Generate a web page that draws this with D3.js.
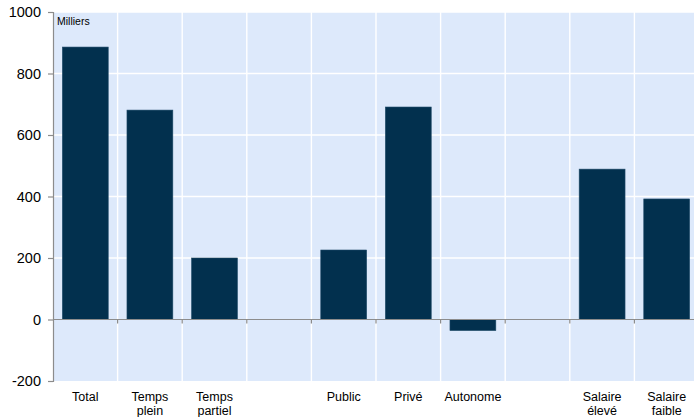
<!DOCTYPE html>
<html>
<head>
<meta charset="utf-8">
<script src="https://cdn.jsdelivr.net/npm/d3@7"></script>
<style>
  html, body { margin: 0; padding: 0; background: #fff; }
  svg { display: block; font-family: "Liberation Sans", Arial, sans-serif; }
</style>
</head>
<body>
<div id="chart"></div>
<script>
// Emploi par catégorie (milliers)
const categories = ["Total", "Temps plein", "Temps partiel", "", "Public", "Privé", "Autonome", " ", "Salaire élevé", "Salaire faible"];
const labelLines = [["Total"], ["Temps", "plein"], ["Temps", "partiel"], [], ["Public"], ["Privé"], ["Autonome"], [], ["Salaire", "élevé"], ["Salaire", "faible"]];
const values = [886, 681, 200, null, 226, 691, -36, null, 489, 392];
const yTicks = [-200, 0, 200, 400, 600, 800, 1000];
const unitLabel = "Milliers";

const W = 694, H = 417;
const margin = { left: 53, top: 12, right: -5, bottom: 36 };

const svg = d3.select("#chart").append("svg").attr("width", W).attr("height", H);

const x = d3.scaleBand()
  .domain(categories)
  .range([margin.left, W - margin.right])
  .paddingInner(0.29)
  .paddingOuter(0.145);

const y = d3.scaleLinear()
  .domain([-200, 1000])
  .range([H - margin.bottom, margin.top]);

// Plot background
svg.append("rect")
  .attr("x", margin.left).attr("y", margin.top)
  .attr("width", W - margin.right - margin.left)
  .attr("height", y(-200) - y(1000))
  .attr("fill", "#dde9fb");

// Horizontal gridlines
svg.append("g").selectAll("line").data(yTicks.filter(t => t !== 0 && t !== -200)).join("line")
  .attr("x1", margin.left).attr("x2", W - margin.right)
  .attr("y1", d => y(d)).attr("y2", d => y(d))
  .attr("stroke", "#ffffff").attr("stroke-width", 1.4);

// Vertical gridlines at category boundaries
const step = x.step();
const bounds = categories.slice(1).map(c => x(c) - x.paddingInner() * step / 2);
svg.append("g").selectAll("line").data(bounds).join("line")
  .attr("x1", d => d).attr("x2", d => d)
  .attr("y1", y(1000)).attr("y2", y(-200))
  .attr("stroke", "#ffffff").attr("stroke-width", 1.4);

// Bars
svg.append("g").selectAll("rect")
  .data(categories.map((c, i) => ({ c, v: values[i] })).filter(d => d.v !== null))
  .join("rect")
  .attr("x", d => x(d.c))
  .attr("width", x.bandwidth())
  .attr("y", d => y(Math.max(0, d.v)))
  .attr("height", d => Math.abs(y(d.v) - y(0)))
  .attr("fill", "#02304e")
  .attr("stroke", "#1f4a68").attr("stroke-width", 0.6);

// Zero line with category ticks
svg.append("line")
  .attr("x1", margin.left).attr("x2", W - margin.right)
  .attr("y1", y(0)).attr("y2", y(0))
  .attr("stroke", "#8c8c8c").attr("stroke-width", 1.2);
svg.append("g").selectAll("line").data(bounds).join("line")
  .attr("x1", d => d).attr("x2", d => d)
  .attr("y1", y(0)).attr("y2", y(0) + 4)
  .attr("stroke", "#8c8c8c").attr("stroke-width", 1.2);

// Y axis
const yAxis = d3.axisLeft(y).tickValues(yTicks).tickSize(5).tickPadding(7)
  .tickFormat(d => String(d));
const gy = svg.append("g").attr("transform", `translate(${margin.left},0)`).call(yAxis);
gy.select(".domain").attr("stroke", "#8c8c8c").attr("stroke-width", 1.2);
gy.selectAll(".tick line").attr("stroke", "#8c8c8c").attr("stroke-width", 1.2);
gy.selectAll(".tick text").attr("font-size", 14.5).attr("fill", "#000")
  .attr("font-family", "Liberation Sans, Arial, sans-serif");

// Category labels
const lab = svg.append("g");
categories.forEach((c, i) => {
  const cx = x(c) + x.bandwidth() / 2;
  const t = lab.append("text")
    .attr("x", cx)
    .attr("y", y(-200) + 20)
    .attr("text-anchor", "middle")
    .attr("font-size", 12.5).attr("fill", "#000");
  labelLines[i].forEach((line, j) => {
    t.append("tspan").attr("x", cx).attr("dy", j === 0 ? 0 : 13.5).text(line);
  });
});

// Unit label
svg.append("text")
  .attr("x", margin.left + 4).attr("y", margin.top + 13)
  .attr("font-size", 10.5).attr("fill", "#000")
  .text(unitLabel);
</script>
</body>
</html>
